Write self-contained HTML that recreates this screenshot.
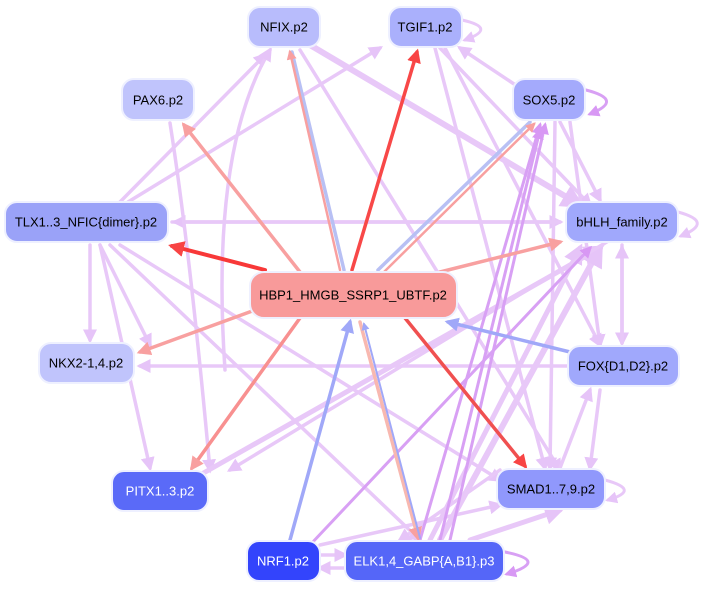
<!DOCTYPE html>
<html><head><meta charset="utf-8"><style>
html,body{margin:0;padding:0;background:#fff;}
svg{display:block;}
text{font-family:"Liberation Sans",sans-serif;font-size:13px;text-anchor:middle;dominant-baseline:central;}
</style></head><body>
<svg width="709" height="593" viewBox="0 0 709 593" xmlns="http://www.w3.org/2000/svg">
<defs>
<marker id="mp" markerWidth="4" markerHeight="4" refX="3" refY="2" orient="auto" markerUnits="strokeWidth"><path d="M0,0L4,2L0,4z" fill="#e6c4f8"/></marker>
<marker id="md" markerWidth="4" markerHeight="4" refX="3" refY="2" orient="auto" markerUnits="strokeWidth"><path d="M0,0L4,2L0,4z" fill="#d898f4"/></marker>
<marker id="mr" markerWidth="4" markerHeight="4" refX="3" refY="2" orient="auto" markerUnits="strokeWidth"><path d="M0,0L4,2L0,4z" fill="#f84444"/></marker>
<marker id="ms" markerWidth="4" markerHeight="4" refX="3" refY="2" orient="auto" markerUnits="strokeWidth"><path d="M0,0L4,2L0,4z" fill="#f8a0a0"/></marker>
<marker id="mb" markerWidth="4" markerHeight="4" refX="3" refY="2" orient="auto" markerUnits="strokeWidth"><path d="M0,0L4,2L0,4z" fill="#a0a8f8"/></marker>
</defs>
<g fill="none" stroke-linecap="round">
<g stroke="#e8c8f8" stroke-width="3.5" marker-end="url(#mp)">
<path d="M120,202 L265,55"/>
<path d="M128,202 L380,48"/>
<path d="M172,222 L560,222"/>
<path d="M560,222 L175,222"/>
<path d="M225,370 Q210,150 270,50"/>
<path d="M170,123 Q190,250 210,470"/>
<path d="M90,245 L90,340"/>
<path d="M100,245 L150,468"/>
<path d="M110,245 L420,540"/>
<path d="M120,245 L500,480"/>
<path d="M100,245 L150,345" />
<path d="M568,366 L140,366"/>
<path d="M300,50 L560,470"/>
<path d="M310,45 L580,205" stroke-width="6"/>
<path d="M440,48 L590,205"/>
<path d="M435,48 L545,468"/>
<path d="M445,48 L600,345"/>
<path d="M520,88 L460,48"/>
<path d="M560,122 L600,200"/>
<path d="M570,122 L600,345"/>
<path d="M555,122 L550,468"/>
<path d="M622,245 L622,343"/>
<path d="M622,343 L622,248"/>
<path d="M440,540 L600,248" stroke-width="6"/>
<path d="M430,540 L580,248" stroke-width="5"/>
<path d="M470,540 L560,510" stroke-width="5"/>
<path d="M320,545 L500,505"/>
<path d="M200,475 L600,248" stroke-width="5"/>
<path d="M320,555 L345,555"/>
<path d="M345,568 L320,568"/>
<path d="M600,390 L590,468"/>
<path d="M560,468 L590,390"/>
<path d="M500,470 L400,540"/>
<path d="M610,240 L230,470"/>
</g>
<g stroke="#d8a0f4" stroke-width="3" marker-end="url(#md)">
<path d="M310,545 L590,248"/>
<path d="M450,540 L545,125"/>
<path d="M420,540 L540,125"/>
<path d="M440,540 L540,130"/>
<path d="M505,552 Q550,561 507,574"/>
<path d="M586,90 Q625,100 590,114"/>
</g>
<g stroke="#e8c8f8" stroke-width="3" marker-end="url(#mp)">
<path d="M462,20 Q498,28 465,40"/>
<path d="M678,212 Q715,222 681,236"/>
<path d="M605,480 Q642,490 608,500"/>
</g>
<path d="M265,270 L172,246" stroke="#f83838" stroke-width="4" marker-end="url(#mr)"/>
<path d="M352,270 L417,52" stroke="#f84848" stroke-width="3.5" marker-end="url(#mr)"/>
<path d="M405,318 L525,466" stroke="#f05050" stroke-width="3.5" marker-end="url(#mr)"/>
<path d="M344,270 L292,52" stroke="#b8c0f4" stroke-width="3.5"/>
<path d="M340,270 L290,52" stroke="#f8a0a0" stroke-width="2.5" marker-end="url(#ms)"/>
<path d="M300,272 L184,125" stroke="#f8a0a0" stroke-width="3.5" marker-end="url(#ms)"/>
<path d="M378,270 L530,122" stroke="#b8c0f4" stroke-width="3.5"/>
<path d="M384,272 L534,124" stroke="#f8a0a0" stroke-width="2.5" marker-end="url(#ms)"/>
<path d="M440,272 L560,242" stroke="#f8a0a0" stroke-width="3.5" marker-end="url(#ms)"/>
<path d="M255,310 L140,352" stroke="#f8a0a0" stroke-width="3.5" marker-end="url(#ms)"/>
<path d="M300,318 L192,468" stroke="#f89090" stroke-width="3.5" marker-end="url(#ms)"/>
<path d="M360,322 L418,538" stroke="#f8b8b0" stroke-width="3.5" marker-end="url(#ms)"/>
<path d="M420,538 L364,324" stroke="#a0a8f8" stroke-width="2" marker-end="url(#mb)"/>
<path d="M290,540 L350,322" stroke="#a0a8f8" stroke-width="3.5" marker-end="url(#mb)"/>
<path d="M570,352 L448,322" stroke="#a0a8f8" stroke-width="3.5" marker-end="url(#mb)"/>
</g>
<g stroke="#eef0ff" stroke-width="2">
<rect x="248" y="7" width="72" height="40" rx="12" fill="#b8bcfc"/>
<rect x="389" y="7" width="73" height="40" rx="12" fill="#aab0fc"/>
<rect x="122" y="79" width="72" height="41" rx="12" fill="#c0c4fc"/>
<rect x="513" y="79" width="72" height="41" rx="12" fill="#a4aafc"/>
<rect x="5" y="202" width="163" height="40" rx="12" fill="#9aa2f8"/>
<rect x="566" y="202" width="112" height="40" rx="12" fill="#a0a8fc"/>
<rect x="250" y="272" width="207" height="46" rx="14" fill="#f89a9a"/>
<rect x="39" y="343" width="95" height="40" rx="12" fill="#c0c4fc"/>
<rect x="568" y="346" width="111" height="40" rx="12" fill="#a0a8fc"/>
<rect x="112" y="471" width="96" height="40" rx="12" fill="#5a6af8"/>
<rect x="497" y="469" width="108" height="40" rx="12" fill="#9098fc"/>
<rect x="247" y="541" width="73" height="40" rx="12" fill="#3344fc"/>
<rect x="345" y="541" width="159" height="40" rx="12" fill="#5566f8"/>
</g>
<g fill="#000">
<text x="284" y="27">NFIX.p2</text>
<text x="425" y="27">TGIF1.p2</text>
<text x="158" y="100">PAX6.p2</text>
<text x="549" y="100">SOX5.p2</text>
<text x="86" y="222">TLX1..3_NFIC{dimer}.p2</text>
<text x="622" y="222">bHLH_family.p2</text>
<text x="353" y="295">HBP1_HMGB_SSRP1_UBTF.p2</text>
<text x="86" y="363">NKX2-1,4.p2</text>
<text x="623" y="366">FOX{D1,D2}.p2</text>
<text x="551" y="489">SMAD1..7,9.p2</text>
</g>
<g fill="#fff">
<text x="160" y="491">PITX1..3.p2</text>
<text x="283" y="561">NRF1.p2</text>
<text x="424" y="561">ELK1,4_GABP{A,B1}.p3</text>
</g>
</svg>
</body></html>
